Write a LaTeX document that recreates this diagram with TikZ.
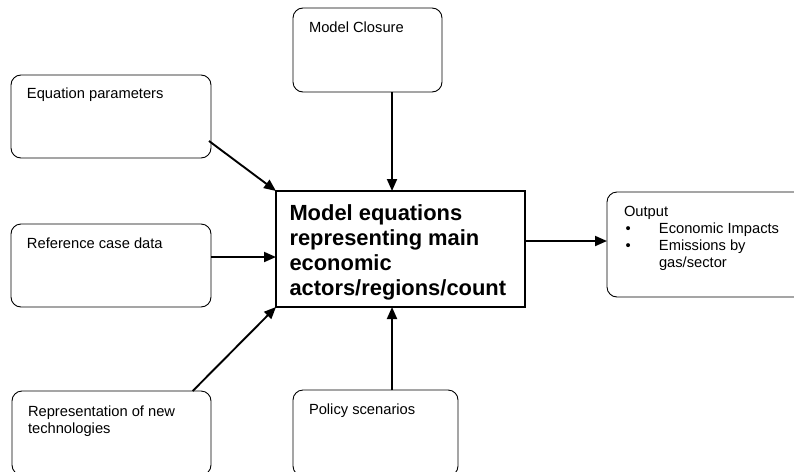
\documentclass[tikz,border=0pt]{standalone}
\usepackage{fontspec}
\setmainfont{Liberation Sans}
\usetikzlibrary{arrows.meta,calc}
\begin{document}
\begin{tikzpicture}[x=1pt,y=-1pt,
  rbox/.style={draw,line width=0.9pt,rounded corners=10pt,anchor=north west,inner sep=0pt,outer sep=0pt},
  mbox/.style={draw,line width=1.2pt,anchor=north west,inner sep=0pt,outer sep=0pt},
  txt/.style={anchor=base west,inner sep=0pt,outer sep=0pt,font=\fontsize{14.7}{17}\selectfont},
  btxt/.style={anchor=base west,inner sep=0pt,outer sep=0pt,font=\fontsize{21.9}{25}\selectfont\bfseries},
  arr/.style={line width=1.9pt,-{Triangle[length=12pt,width=10pt]}}]
\clip (0,0) rectangle (794,471);
\fill[white] (0,0) rectangle (794,471);
% boxes
\node[rbox,minimum width=200pt,minimum height=83pt] (eq) at (11,75) {};
\node[rbox,minimum width=149pt,minimum height=84pt] (clo) at (293,8) {};
\node[rbox,minimum width=200pt,minimum height=83pt] (ref) at (11,224) {};
\node[rbox,minimum width=199pt,minimum height=84pt] (rep) at (12,391) {};
\node[rbox,minimum width=165pt,minimum height=86pt] (pol) at (293,390) {};
\node[rbox,minimum width=200pt,minimum height=105pt] (out) at (607,192) {};
\node[mbox,minimum width=249pt,minimum height=116pt] (main) at (276,191) {};
% texts
\node[txt] (teq) at (27,98.5) {Equation parameters};
\node[txt] (tclo) at (309,32.5) {Model Closure};
\node[txt] (tref) at (27,248.3) {Reference case data};
\node[txt] (trep) at (28,416.5) {\begin{tabular}[t]{@{}l@{}}Representation of new\\technologies\end{tabular}};
\node[txt] (tpol) at (309,414.3) {Policy scenarios};
\node[txt] (tout) at (624,216) {\begin{tabular}[t]{@{}l@{}}Output\\
\hspace*{1.5pt}\makebox[33.5pt][l]{•}Economic Impacts\\
\hspace*{1.5pt}\makebox[33.5pt][l]{•}Emissions by\\
\hspace*{35pt}gas/sector\end{tabular}};
\node[btxt] (tmain) at (289.5,220) {\begin{tabular}[t]{@{}l@{}}Model equations\\representing main\\economic\\actors/regions/count\end{tabular}};
% connectors
\draw[arr] ($(eq.south east)+(-2,-17)$) -- (main.north west);
\draw[arr] ([yshift=8.5pt]ref.east) -- ([yshift=-8pt]main.west);
\draw[arr] ([xshift=-18.3pt]rep.north east) -- (main.south west);
\draw[arr] ([xshift=24.5pt]clo.south) -- ([xshift=-8.5pt]main.north);
\draw[arr] ([xshift=16.5pt]pol.north) -- ([xshift=-8.5pt]main.south);
\draw[arr] ([yshift=8pt]main.east) -- (out.west |- {$(main.east)+(0,-8)$});
\end{tikzpicture}
\end{document}
